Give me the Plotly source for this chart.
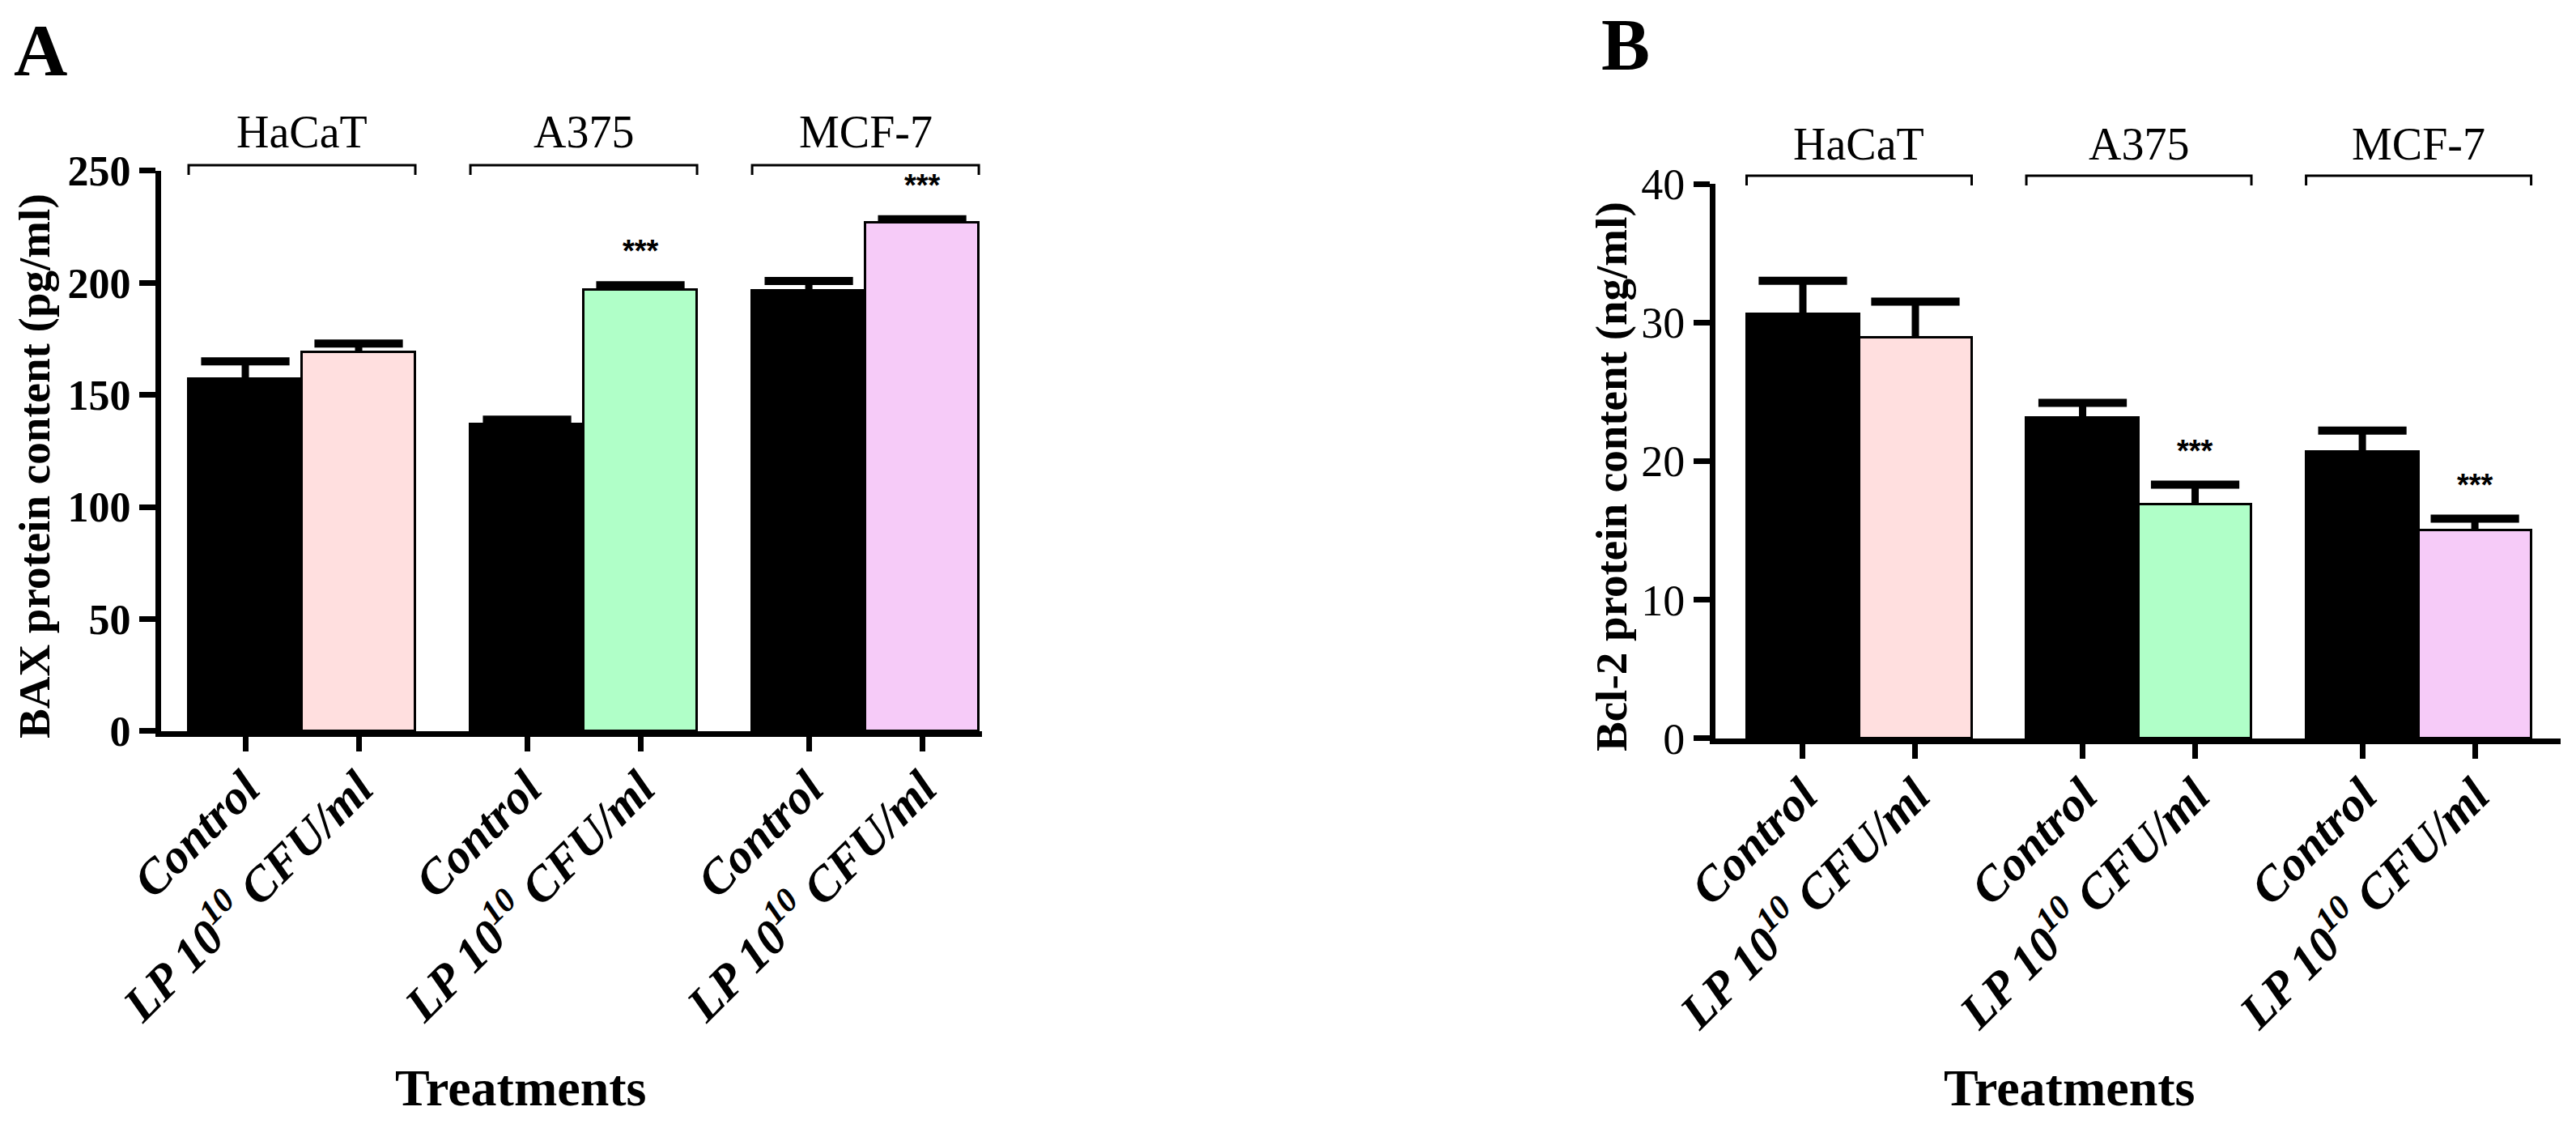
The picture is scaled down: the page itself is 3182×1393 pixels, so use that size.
import plotly.graph_objects as go

# ---------------- data ----------------
cell_lines = ["HaCaT", "A375", "MCF-7"]
treatments = ["Control", "LP 10<sup>10</sup> CFU/ml"]

bax_mean = [157, 169, 137, 197, 196.5, 226.8]
bax_err = [8, 4, 2, 2, 4.4, 1.6]

bcl2_mean = [30.6, 28.9, 23.1, 16.9, 20.7, 15.0]
bcl2_err = [2.4, 2.6, 1.1, 1.4, 1.5, 0.85]

significant = [False, False, False, True, False, True]   # *** markers (both panels)

bar_colors = ["#000000", "#FFDFDF", "#000000", "#B0FFC8", "#000000", "#F6CBF8"]

# ---------------- layout constants ----------------
GROUP_STEP = 2.486
FONT = "Liberation Serif"
W, H = 3182, 1393

xpos = []
for g in range(len(cell_lines)):
    for b in range(len(treatments)):
        xpos.append(g * GROUP_STEP + b)
ticktext = treatments * len(cell_lines)
group_centers = [g * GROUP_STEP + 0.5 for g in range(len(cell_lines))]

fig = go.Figure()

def add_panel(means, errs, xa, ya):
    fig.add_trace(go.Bar(
        x=xpos, y=means, width=1.0,
        marker=dict(color=bar_colors, line=dict(color="black", width=3)),
        xaxis=xa, yaxis=ya, showlegend=False, hoverinfo="skip"))
    sx, sy = [], []
    for x, m, e in zip(xpos, means, errs):
        sx += [x, x, None]
        sy += [m, m + e, None]
    fig.add_trace(go.Scatter(
        x=sx, y=sy, mode="lines", line=dict(color="black", width=9),
        xaxis=xa, yaxis=ya, showlegend=False, hoverinfo="skip"))
    fig.add_trace(go.Scatter(
        x=xpos, y=[m + e for m, e in zip(means, errs)], mode="markers",
        marker=dict(symbol="line-ew", size=78, color="black",
                    line=dict(color="black", width=10)),
        xaxis=xa, yaxis=ya, showlegend=False, hoverinfo="skip", cliponaxis=False))

add_panel(bax_mean, bax_err, "x", "y")
add_panel(bcl2_mean, bcl2_err, "x2", "y2")

axis_common = dict(showline=True, linewidth=7, linecolor="black", ticks="outside",
                   tickwidth=7, tickcolor="black", showgrid=False, zeroline=False)

xaxis_common = dict(axis_common, tickvals=xpos, ticktext=ticktext, tickangle=-45, ticklen=18,
                    ticklabelstandoff=-14,
                    tickfont=dict(family=FONT, size=60, color="black", weight="bold", style="italic"))

fig.update_layout(
    width=W, height=H, autosize=False,
    margin=dict(l=0, r=0, t=0, b=0),
    paper_bgcolor="white", plot_bgcolor="white",
    template="none",
    bargap=0,
    xaxis=dict(xaxis_common, domain=[0.06254, 0.38121], range=[-0.743, 6.5], anchor="y"),
    yaxis=dict(axis_common, domain=[0.35176, 0.84853], range=[0, 250], dtick=50, tick0=0, ticklen=20,
               anchor="x",
               tickfont=dict(family=FONT, size=52, color="black", weight="bold")),
    xaxis2=dict(xaxis_common, domain=[0.66593, 0.99403], range=[-0.777, 6.734], anchor="y2"),
    yaxis2=dict(axis_common, domain=[0.34530, 0.83704], range=[0, 40], dtick=10, tick0=0, ticklen=20,
                anchor="x2",
                tickfont=dict(family=FONT, size=54, color="black")),
)

annotations = []
shapes = []

def panel_decor(xref, yref, means, errs, label_y, br_top, br_bot):
    for g, name in enumerate(cell_lines):
        annotations.append(dict(text=name, x=group_centers[g], y=label_y, xref=xref, yref="paper",
                                showarrow=False, xanchor="center", yanchor="middle",
                                font=dict(family=FONT, size=56, color="black")))
        left = xpos[2 * g] - 0.5
        right = xpos[2 * g + 1] + 0.5
        shapes.append(dict(type="path", xref=xref, yref="paper",
                           path=f"M {left},{br_bot} L {left},{br_top} L {right},{br_top} L {right},{br_bot}",
                           line=dict(color="black", width=3)))
    for x, m, e, s in zip(xpos, means, errs, significant):
        if s:
            annotations.append(dict(text="<b>***</b>", x=x, y=m + e, xref=xref, yref=yref, yshift=42,
                                    showarrow=False, xanchor="center", yanchor="middle",
                                    font=dict(family="Liberation Sans", size=38, color="black")))

panel_decor("x", "y", bax_mean, bax_err, 1 - 163 / H, 1 - 204 / H, 1 - 216 / H)
panel_decor("x2", "y2", bcl2_mean, bcl2_err, 1 - 178 / H, 1 - 217 / H, 1 - 229 / H)

# panel letters
annotations.append(dict(text="A", x=50 / W, y=1 - 62 / H, xref="paper", yref="paper", showarrow=False,
                        xanchor="center", yanchor="middle",
                        font=dict(family=FONT, size=92, color="black", weight="bold")))
annotations.append(dict(text="B", x=2008 / W, y=1 - 55 / H, xref="paper", yref="paper", showarrow=False,
                        xanchor="center", yanchor="middle",
                        font=dict(family=FONT, size=90, color="black", weight="bold")))

# axis titles
annotations.append(dict(text="BAX protein content (pg/ml)", x=42 / W, y=1 - 576 / H, xref="paper",
                        yref="paper", showarrow=False, textangle=-90, xanchor="center", yanchor="middle",
                        font=dict(family=FONT, size=55, color="black", weight="bold")))
annotations.append(dict(text="Bcl-2 protein content (ng/ml)", x=1990 / W, y=1 - 589 / H, xref="paper",
                        yref="paper", showarrow=False, textangle=-90, xanchor="center", yanchor="middle",
                        font=dict(family=FONT, size=55, color="black", weight="bold")))
annotations.append(dict(text="Treatments", x=643 / W, y=1 - 1343 / H, xref="paper", yref="paper",
                        showarrow=False, xanchor="center", yanchor="middle",
                        font=dict(family=FONT, size=64, color="black", weight="bold")))
annotations.append(dict(text="Treatments", x=2556 / W, y=1 - 1343 / H, xref="paper", yref="paper",
                        showarrow=False, xanchor="center", yanchor="middle",
                        font=dict(family=FONT, size=64, color="black", weight="bold")))

fig.update_layout(annotations=annotations, shapes=shapes)

fig.write_html("out.html")
